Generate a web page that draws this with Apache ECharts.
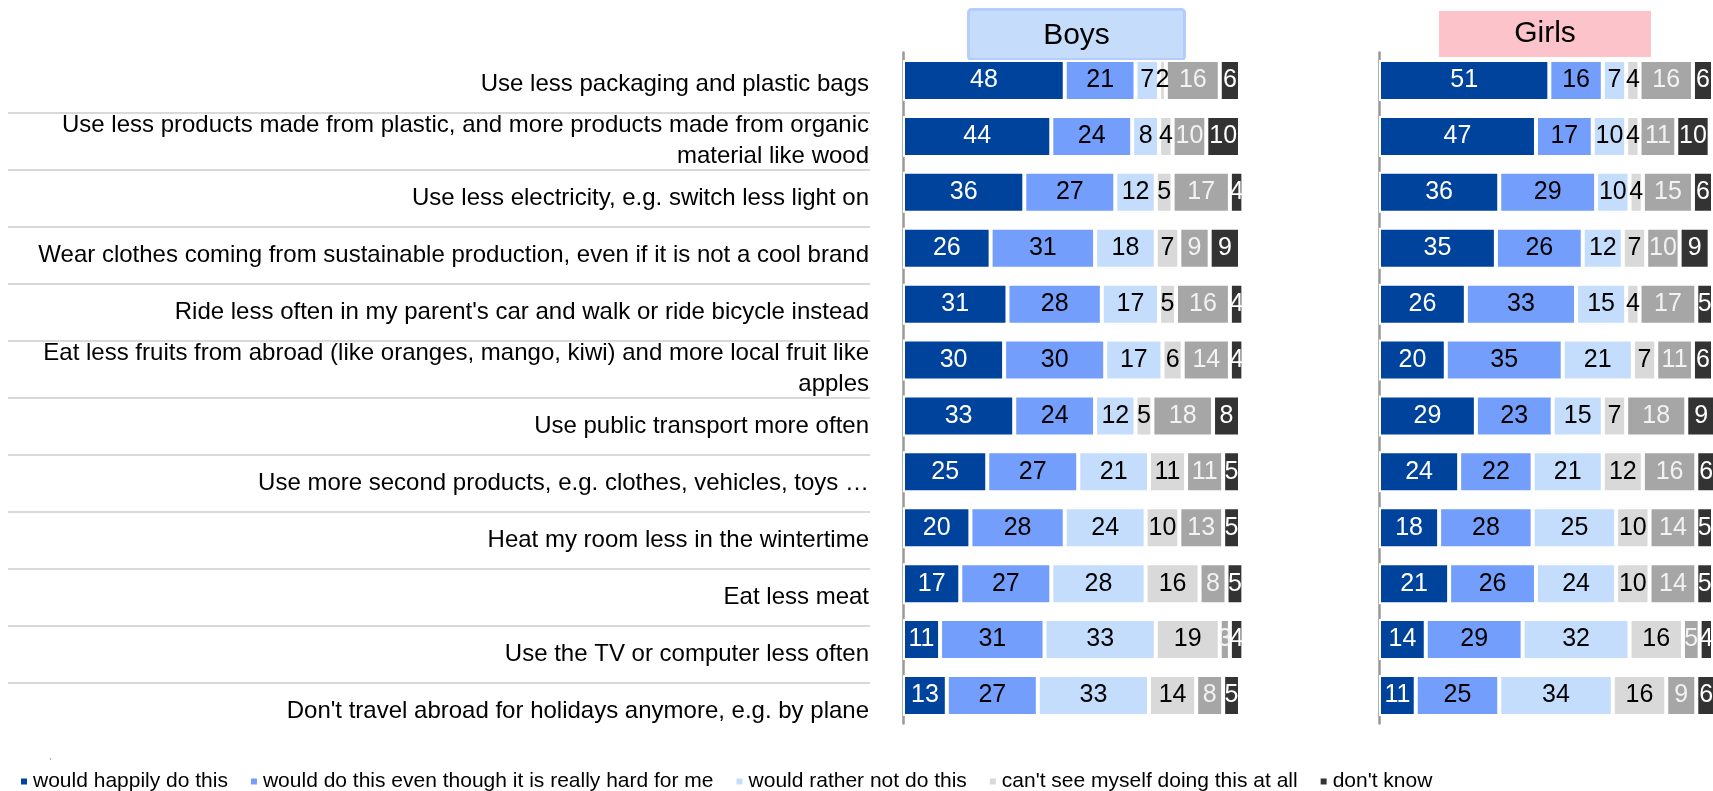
<!DOCTYPE html>
<html>
<head>
<meta charset="utf-8">
<title>Boys / Girls</title>
<script src="https://cdn.jsdelivr.net/npm/echarts/dist/echarts.min.js"></script>
<style>
  html, body { margin: 0; padding: 0; background: #fff; }
  #chart { width: 1713px; height: 791px; }
</style>
</head>
<body>
<div id="chart"></div>
<script>
// row labels (top to bottom)
const categories = [
    'Use less packaging and plastic bags',
    'Use less products made from plastic, and more products made from organic\nmaterial like wood',
    'Use less electricity, e.g. switch less light on',
    'Wear clothes coming from sustainable production, even if it is not a cool brand',
    "Ride less often in my parent's car and walk or ride bicycle instead",
    'Eat less fruits from abroad (like oranges, mango, kiwi) and more local fruit like\napples',
    'Use public transport more often',
    'Use more second products, e.g. clothes, vehicles, toys \u2026',
    'Heat my room less in the wintertime',
    'Eat less meat',
    'Use the TV or computer less often',
    "Don't travel abroad for holidays anymore, e.g. by plane"
];

const answerNames = [
    'would happily do this',
    'would do this even though it is really hard for me',
    'would rather not do this',
    "can't see myself doing this at all",
    'n/a',
    "don't know"
];

// Boys (%)
const boysHappily  = [48, 44, 36, 26, 31, 30, 33, 25, 20, 17, 11, 13];
const boysHard     = [21, 24, 27, 31, 28, 30, 24, 27, 28, 27, 31, 27];
const boysRather   = [7, 8, 12, 18, 17, 17, 12, 21, 24, 28, 33, 33];
const boysCant     = [2, 4, 5, 7, 5, 6, 5, 11, 10, 16, 19, 14];
const boysNA       = [16, 10, 17, 9, 16, 14, 18, 11, 13, 8, 3, 8];
const boysDontKnow = [6, 10, 4, 9, 4, 4, 8, 5, 5, 5, 4, 5];

// Girls (%)
const girlsHappily  = [51, 47, 36, 35, 26, 20, 29, 24, 18, 21, 14, 11];
const girlsHard     = [16, 17, 29, 26, 33, 35, 23, 22, 28, 26, 29, 25];
const girlsRather   = [7, 10, 10, 12, 15, 21, 15, 21, 25, 24, 32, 34];
const girlsCant     = [4, 4, 4, 7, 4, 7, 7, 12, 10, 10, 16, 16];
const girlsNA       = [16, 11, 15, 10, 17, 11, 18, 16, 14, 14, 5, 9];
const girlsDontKnow = [6, 10, 6, 9, 5, 6, 9, 6, 5, 5, 4, 6];

const boysData = [boysHappily, boysHard, boysRather, boysCant, boysNA, boysDontKnow];
const girlsData = [girlsHappily, girlsHard, girlsRather, girlsCant, girlsNA, girlsDontKnow];

const colors = ['#00439c', '#739efb', '#c4ddfc', '#d9d9d9', '#a6a6a6', '#333333'];
const labelColors = ['#ffffff', '#000000', '#000000', '#000000', '#f2f2f2', '#ffffff'];

const FONT = "'Liberation Sans', Arial, sans-serif";

const chart = echarts.init(document.getElementById('chart'));

/**
 * 一组堆叠条形
 */
function buildSeries(dataSets, axisIdx, stackName) {
    return dataSets.map((values, i) => ({
        name: answerNames[i],
        type: 'bar',
        stack: stackName,
        xAxisIndex: axisIdx,
        yAxisIndex: axisIdx,
        data: values,
        barWidth: 41,
        clip: false,
        itemStyle: { color: colors[i], borderColor: '#ffffff', borderWidth: 2 },
        label: {
            show: true,
            position: 'inside',
            color: labelColors[i],
            fontFamily: FONT,
            fontSize: 25
        },
        emphasis: { disabled: true }
    }));
}

const barYAxis = (gridIndex) => ({
    type: 'category',
    gridIndex: gridIndex,
    data: categories,
    inverse: true,
    axisLine: { show: true, lineStyle: { color: '#999999', width: 2.5 } },
    axisTick: { show: false },
    axisLabel: { show: false },
    splitLine: { show: false }
});

const barXAxis = (gridIndex) => ({
    type: 'value',
    gridIndex: gridIndex,
    min: 0,
    max: 100,
    show: false
});

chart.setOption({
    animation: false,
    textStyle: { fontFamily: FONT },
    grid: [
        // label table on the left
        { left: 8, top: 55.5, width: 862, height: 684 },
        // boys
        { left: 903, top: 52.6, width: 337, height: 670.8 },
        // girls
        { left: 1379, top: 52.6, width: 337, height: 670.8 }
    ],
    xAxis: [
        { type: 'value', gridIndex: 0, show: false, min: 0, max: 1 },
        barXAxis(1),
        barXAxis(2)
    ],
    yAxis: [
        {
            type: 'category',
            gridIndex: 0,
            position: 'right',
            data: categories,
            inverse: true,
            axisLine: { show: false },
            axisTick: { show: false },
            axisLabel: {
                inside: true,
                margin: 1,
                color: '#000000',
                fontFamily: FONT,
                fontSize: 24,
                lineHeight: 31
            },
            splitLine: {
                show: true,
                showMinLine: false,
                showMaxLine: false,
                lineStyle: { color: '#d9d9d9', width: 2 }
            }
        },
        barYAxis(1),
        barYAxis(2)
    ],
    legend: [
        {
            data: answerNames.filter(n => n !== 'n/a'),
            left: 14,
            top: 766,
            icon: 'rect',
            itemWidth: 8,
            itemHeight: 8,
            itemGap: 21,
            textStyle: { color: '#000000', fontFamily: FONT, fontSize: 21 },
            selectedMode: false
        },
        {
            data: ['n/a'],
            left: 43,
            top: 751,
            icon: 'rect',
            itemWidth: 3,
            itemHeight: 4,
            formatter: () => '',
            selectedMode: false
        }
    ],
    graphic: [
        {
            type: 'group',
            left: 967,
            top: 8,
            children: [
                {
                    type: 'rect',
                    shape: { x: 0, y: 0, width: 216, height: 50, r: 3 },
                    style: { fill: '#c5dcfb', stroke: '#b6cdfb', lineWidth: 3 }
                },
                {
                    type: 'text',
                    x: 108,
                    y: 26,
                    style: {
                        text: 'Boys',
                        fontFamily: FONT,
                        fontSize: 30,
                        fill: '#000000',
                        align: 'center',
                        verticalAlign: 'middle'
                    }
                }
            ]
        },
        {
            type: 'group',
            left: 1439,
            top: 11,
            children: [
                {
                    type: 'rect',
                    shape: { x: 0, y: 0, width: 212, height: 46 },
                    style: { fill: '#fcc3cb' }
                },
                {
                    type: 'text',
                    x: 106,
                    y: 23,
                    style: {
                        text: 'Girls',
                        fontFamily: FONT,
                        fontSize: 30,
                        fill: '#000000',
                        align: 'center',
                        verticalAlign: 'middle'
                    }
                }
            ]
        }
    ],
    series: [
        ...buildSeries(boysData, 1, 'boys'),
        ...buildSeries(girlsData, 2, 'girls')
    ]
});
</script>
</body>
</html>
